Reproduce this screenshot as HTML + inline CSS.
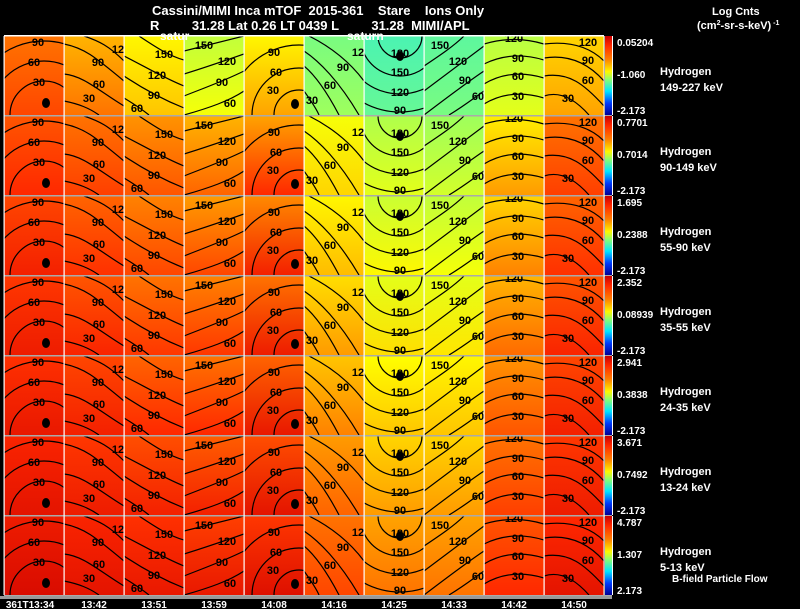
<!DOCTYPE html>
<html><head><meta charset="utf-8"><style>
html,body{margin:0;padding:0;background:#000;width:800px;height:609px;overflow:hidden}
svg{display:block}
text{font-family:"Liberation Sans",sans-serif;font-weight:bold}
</style></head><body>
<svg id="chart" width="800" height="609" viewBox="0 0 800 609" xmlns="http://www.w3.org/2000/svg">
<g fill="#fff" font-size="13">
<text x="152" y="15" xml:space="preserve">Cassini/MIMI Inca mTOF  2015-361    Stare    Ions Only</text>
<text x="150" y="30" xml:space="preserve">R         31.28 Lat 0.26 LT 0439 L         31.28  MIMI/APL</text>
<text x="712" y="15" font-size="11">Log Cnts</text>
<text x="697" y="29" font-size="11">(cm<tspan font-size="7" dy="-4">2</tspan><tspan dy="4">-sr-s-keV)</tspan><tspan font-size="7" dy="-4"> -1</tspan></text>
</g>
<defs id="defs"></defs>
<g id="panels"></g>
<g id="contours"></g>
<g id="grid"></g>
<g id="bars"></g>
<g id="xlabels"></g>
<text x="160" y="40" fill="#fff" font-size="12">satur</text>
<text x="347" y="40" fill="#fff" font-size="12">saturn</text>
<text x="672" y="582" fill="#fff" font-size="10">B-field Particle Flow</text>
</svg>
<script>
const energies=["149-227 keV","90-149 keV","55-90 keV","35-55 keV","24-35 keV","13-24 keV","5-13 keV"];
const maxLabels=["0.05204","0.7701","1.695","2.352","2.941","3.671","4.787"];
const midLabels=["-1.060","0.7014","0.2388","0.08939","0.3838","0.7492","1.307"];
const minLabels=["-2.173","-2.173","-2.173","-2.173","-2.173","-2.173","2.173"];
const timeLabels=["361T13:34","13:42","13:51","13:59","14:08","14:16","14:25","14:33","14:42","14:50"];
const topVals=[
[0.80,0.72,0.64,0.56,0.64,0.48,0.43,0.45,0.55,0.68],
[0.84,0.80,0.76,0.72,0.74,0.62,0.54,0.52,0.65,0.80],
[0.86,0.82,0.78,0.75,0.77,0.64,0.57,0.56,0.68,0.82],
[0.88,0.84,0.80,0.78,0.80,0.67,0.60,0.60,0.72,0.84],
[0.89,0.86,0.82,0.80,0.82,0.70,0.63,0.64,0.76,0.86],
[0.91,0.88,0.85,0.83,0.85,0.75,0.68,0.68,0.80,0.88],
[0.93,0.91,0.89,0.87,0.88,0.80,0.74,0.74,0.84,0.90]];
const botVals=[
[0.86,0.80,0.70,0.62,0.74,0.52,0.46,0.48,0.60,0.74],
[0.90,0.87,0.84,0.82,0.90,0.68,0.60,0.58,0.75,0.87],
[0.92,0.89,0.86,0.86,0.92,0.71,0.64,0.62,0.78,0.89],
[0.93,0.91,0.88,0.88,0.93,0.75,0.67,0.66,0.81,0.91],
[0.94,0.92,0.90,0.90,0.94,0.78,0.70,0.70,0.84,0.92],
[0.95,0.93,0.92,0.92,0.95,0.82,0.75,0.75,0.87,0.93],
[0.97,0.95,0.94,0.94,0.96,0.86,0.80,0.80,0.90,0.95]];
const X0=4,CW=60,Y0=36,RH=80,PH=79;
const xPos=c=>X0+c*CW, yPos=r=>Y0+r*RH;
const stops=[[0,[0,0,150]],[0.18,[0,60,255]],[0.35,[0,230,255]],[0.5,[140,255,110]],[0.63,[255,255,0]],[0.78,[255,130,0]],[0.9,[255,40,0]],[1,[200,0,0]]];
function cmap(v){v=Math.max(0,Math.min(1,v));for(let i=1;i<stops.length;i++){if(v<=stops[i][0]){const a=stops[i-1],b=stops[i],t=(v-a[0])/(b[0]-a[0]);return 'rgb('+a[1].map((x,k)=>Math.round(x+(b[1][k]-x)*t)).join(',')+')';}}return 'rgb(200,0,0)';}
const NS="http://www.w3.org/2000/svg";
function el(tag,attrs,parent){const e=document.createElementNS(NS,tag);for(const k in attrs)e.setAttribute(k,attrs[k]);parent.appendChild(e);return e;}
const defs=document.getElementById('defs'),panels=document.getElementById('panels'),cont=document.getElementById('contours'),grid=document.getElementById('grid'),bars=document.getElementById('bars'),xl=document.getElementById('xlabels');
const colPaths=[
["M6,79 A34,34 0 0 1 74,79","M-14,79 A54,54 0 0 1 94,79","M-34,79 A74,74 0 0 1 114,79"],
["M20,0 C35,5 45,10 60,25","M0,8 C20,12 30,20 60,45","M0,38 C20,40 35,55 60,70","M0,65 C15,68 25,72 35,79"],
["M15,0 C30,10 45,20 60,24","M0,20 C20,30 40,42 60,50","M0,40 C15,50 35,62 60,72","M0,62 C10,68 20,75 25,79"],
["M0,15 C20,10 40,5 60,0","M0,38 C20,32 40,25 60,18","M0,60 C20,52 40,45 60,35","M0,79 C25,72 45,65 60,55"],
["M30,79 A25,25 0 0 1 80,79","M8,79 A47,47 0 0 1 102,79","M-15,79 A70,70 0 0 1 125,79"],
["M5,0 C25,10 45,25 60,45","M0,15 C15,25 35,45 55,79","M0,30 C12,40 25,60 35,79","M0,55 C5,62 12,72 15,79"],
["M14,0 A22,22 0 0 0 58,0","M-4,0 A40,40 0 0 0 76,0","M-22,0 A58,58 0 0 0 94,0","M-40,0 A76,76 0 0 0 112,0"],
["M0,30 C15,20 30,10 40,0","M0,55 C20,40 40,25 60,10","M0,79 C25,60 45,45 60,35","M25,79 C40,70 50,62 60,55"],
["M0,8 C20,2 40,2 60,8","M0,28 C20,18 40,18 60,24","M0,48 C20,36 40,36 60,42","M0,68 C20,56 40,56 60,62"],
["M0,8 C25,5 45,10 60,25","M0,22 C25,18 45,28 60,45","M0,40 C25,36 40,48 60,70","M0,60 C15,55 30,62 45,79"]];
const colLabels=[
[["90",34,10],["60",30,30],["30",35,50]],
[["12",54,17],["90",34,30],["60",35,52],["30",25,66]],
[["150",40,22],["120",33,43],["90",30,63],["60",13,76]],
[["150",20,13],["120",43,29],["90",38,50],["60",46,71]],
[["90",30,20],["60",32,40],["30",29,58]],
[["12",54,20],["90",39,35],["60",26,53],["30",8,68]],
[["180",36,21],["150",36,40],["120",36,60],["90",36,78]],
[["150",16,13],["120",34,29],["90",41,48],["60",54,64]],
[["120",30,6],["90",34,26],["60",34,44],["30",34,64]],
[["120",44,10],["90",44,28],["60",44,48],["30",24,66]]];
const dots=[[0,42,67],[4,51,68],[6,36,20]];
for(let r=0;r<7;r++){
 for(let c=0;c<10;c++){
  const gid='g'+r+'_'+c;
  const g=el('linearGradient',{id:gid,x1:0,y1:0,x2:0,y2:1},defs);
  el('stop',{offset:0,'stop-color':cmap(topVals[r][c])},g);
  el('stop',{offset:1,'stop-color':cmap(botVals[r][c])},g);
  const rc=el('rect',{x:xPos(c),y:yPos(r),width:CW,height:PH,fill:'url(#'+gid+')'},panels);
  
  
  const cg=el('g',{transform:'translate('+xPos(c)+','+yPos(r)+')'},cont);
  
  
  const cp=el('clipPath',{id:'cp'+gid},defs);
  el('rect',{width:CW,height:PH},cp);
  cg.setAttribute('clip-path','url(#cp'+gid+')');
  colPaths[c].forEach(d=>{const p=el('path',{d:d,fill:'none',stroke:'#000','stroke-width':1.2},cg);
   
   });
  colLabels[c].forEach(l=>{const t=el('text',{x:l[1],y:l[2],'text-anchor':'middle','font-size':11,fill:'#000'},cg);t.textContent=l[0];
   
   });
  dots.forEach(d=>{if(d[0]===c){const e=el('ellipse',{cx:d[1],cy:d[2],rx:4,ry:5,fill:'#000'},cg);
   
   }});
 }
 const y=yPos(r);
 const hl=el('rect',{x:X0,y:y+PH,width:608,height:1.5,fill:'#aaa'},grid);
 
 
 const bg=el('linearGradient',{id:'cb'+r,x1:0,y1:0,x2:0,y2:1},defs);
 [[0,1],[0.12,0.9],[0.3,0.78],[0.45,0.64],[0.55,0.5],[0.7,0.35],[0.85,0.18],[1,0]].forEach(s=>el('stop',{offset:s[0],'stop-color':cmap(s[1])},bg));
 const cb=el('rect',{x:605,y:y,width:7,height:PH,fill:'url(#cb'+r+')'},bars);
 
 
 el('rect',{x:612,y:y,width:1,height:PH,fill:'#fff'},bars);
 const mk=(txt,xx,yy,fs,name)=>{const t=el('text',{x:xx,y:yy,fill:'#fff','font-size':fs},bars);t.textContent=txt;
  
  };
 mk(maxLabels[r],617,y+10,10,'colorbar-max');
 mk(midLabels[r],617,y+42,10,'colorbar-mid');
 mk(minLabels[r],617,y+78,10,'colorbar-min');
 mk('Hydrogen',660,y+39,11,'species-label');
 mk(energies[r],660,y+55,11,'energy-label');
}
for(let c=0;c<=10;c++){const v=el('rect',{x:xPos(c)-0.5,y:Y0,width:1.2,height:7*RH-1,fill:'#fff'},grid);
 
 }
const tb=el('rect',{x:X0,y:Y0-1,width:600,height:1.5,fill:'#fff'},grid);


const bb=el('rect',{x:0,y:596,width:612,height:3,fill:'#999'},grid);


timeLabels.forEach((t,i)=>{const e=el('text',{x:i===0?30:xPos(i)+30,y:608,'text-anchor':'middle',fill:'#fff','font-size':10},xl);e.textContent=t;
 
 });
</script>
</body></html>
